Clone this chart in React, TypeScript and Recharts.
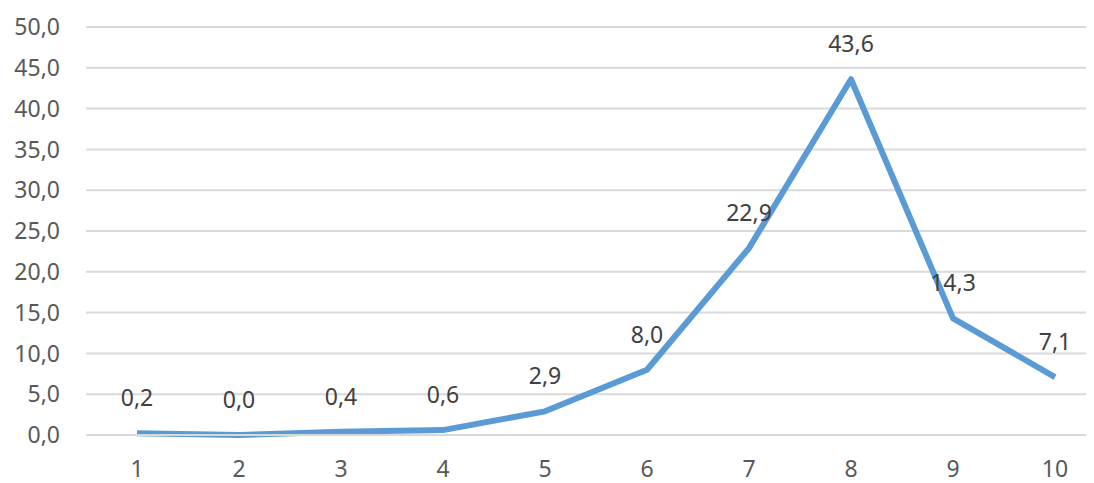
import { LineChart, Line, XAxis, YAxis, CartesianGrid, LabelList } from 'recharts';

const categories = ['1', '2', '3', '4', '5', '6', '7', '8', '9', '10'];
const values = [0.2, 0.0, 0.4, 0.6, 2.9, 8.0, 22.9, 43.6, 14.3, 7.1];
const yTicks = [0, 5, 10, 15, 20, 25, 30, 35, 40, 45, 50];

const data = categories.map((c, i) => ({ name: c, value: values[i] }));

const fmt = (v: number) => v.toFixed(1).replace('.', ',');

const font = "'Noto Sans', 'Open Sans', sans-serif";

const App = () => {
  return (
    <div style={{ width: 1086, height: 475, overflow: 'hidden' }}>
      <LineChart
        width={1110}
        height={475}
        data={data}
        margin={{ top: 19, right: 12, bottom: 0, left: 0 }}
      >
        <CartesianGrid vertical={false} stroke="#D9D9D9" strokeWidth={2} />
        <XAxis
          dataKey="name"
          padding={{ left: 51, right: 51 }}
          axisLine={{ stroke: '#D9D9D9', strokeWidth: 2 }}
          tickLine={false}
          tickMargin={20}
          height={48}
          tick={{ fill: '#595959', fontSize: 23, fontFamily: font }}
        />
        <YAxis
          domain={[0, 50]}
          ticks={yTicks}
          interval={0}
          width={78}
          axisLine={false}
          tickLine={false}
          tickMargin={20}
          tickFormatter={fmt}
          tick={{ fill: '#595959', fontSize: 23, fontFamily: font }}
        />
        <Line
          type="linear"
          dataKey="value"
          stroke="#5B9BD5"
          strokeWidth={6}
          strokeLinejoin="round"
          dot={false}
          isAnimationActive={false}
        >
          <LabelList
            dataKey="value"
            position="top"
            offset={27}
            formatter={(v: any) => fmt(Number(v))}
            style={{ fill: '#404040', fontSize: 23, fontFamily: font }}
          />
        </Line>
      </LineChart>
    </div>
  );
};

export default App;
